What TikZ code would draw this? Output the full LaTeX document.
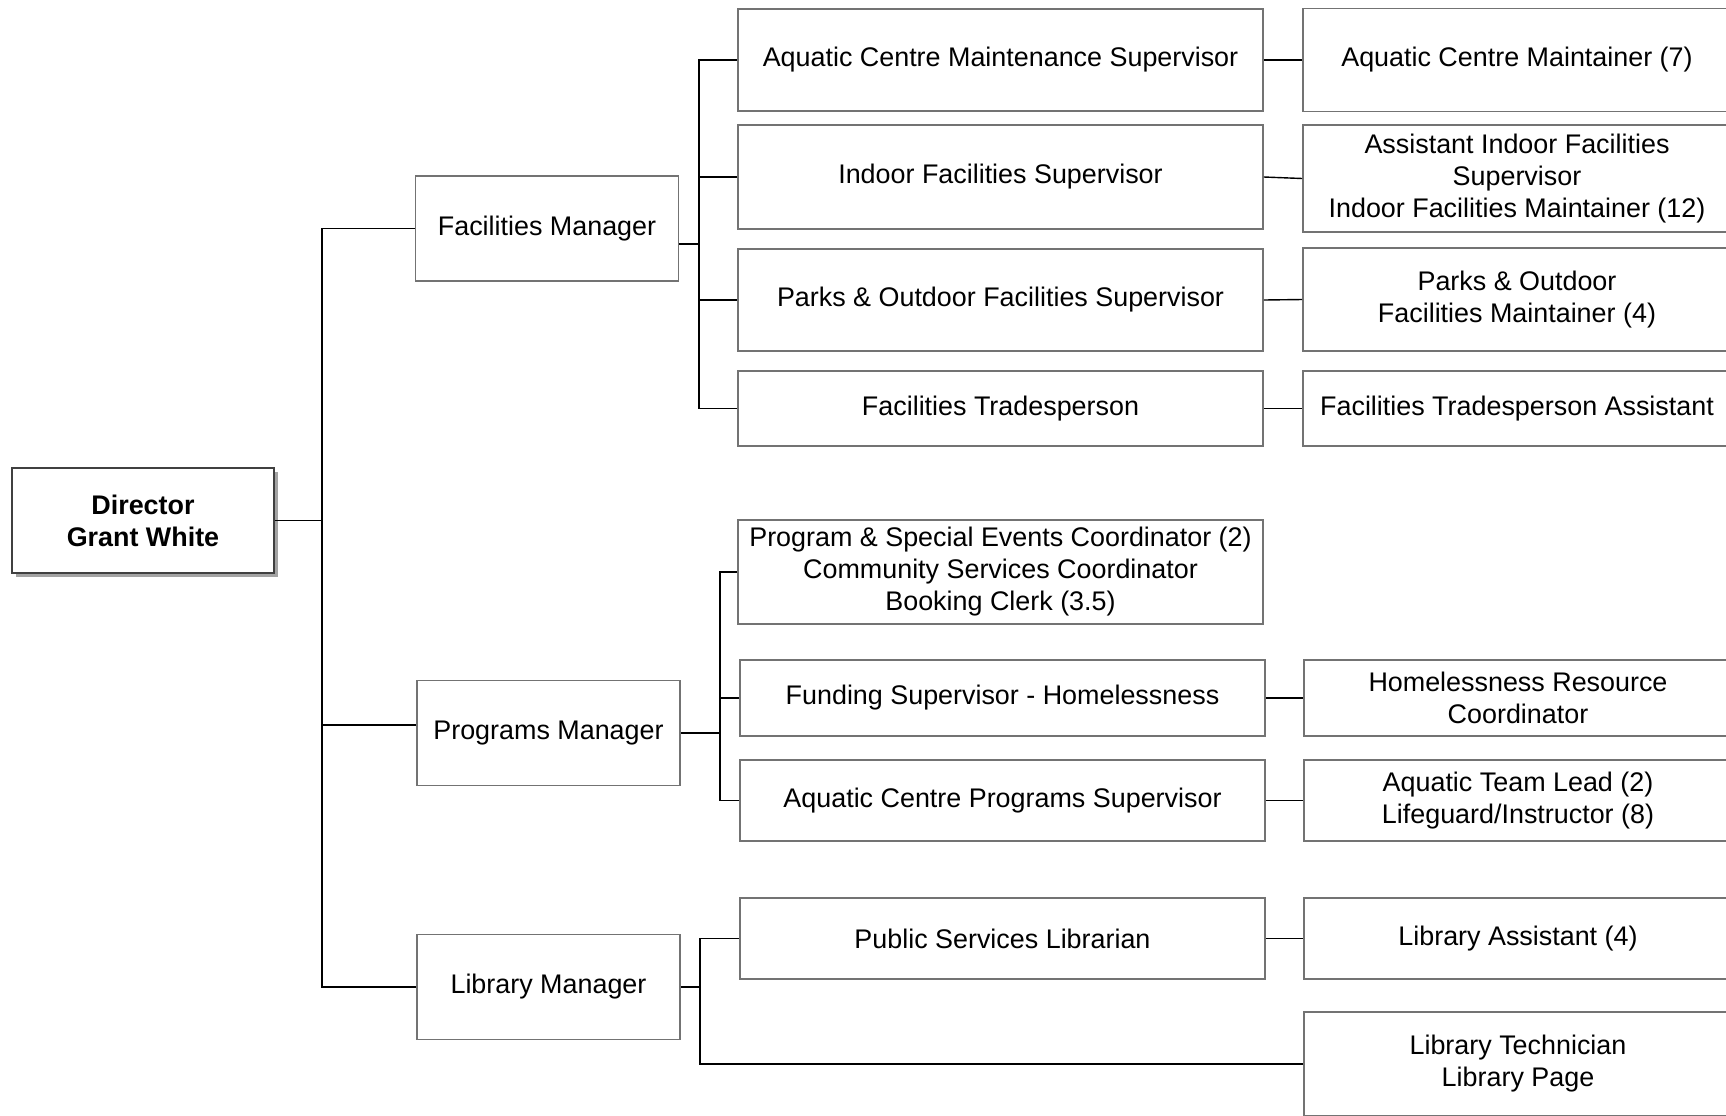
\documentclass[tikz,border=0pt]{standalone}
\usepackage{fontspec}
\setmainfont{Liberation Sans}
\usetikzlibrary{shadows}

\begin{document}
\begin{tikzpicture}[
  x=0.5pt, y=-0.5pt,
  every node/.style={font=\fontsize{13.45}{16}\selectfont},
  box/.style={draw=black!55, line width=0.8pt, fill=white, align=center, inner sep=0pt},
  headbox/.style={box, draw=black!75, font=\fontsize{13.45}{16}\selectfont\bfseries, minimum width=131pt, minimum height=52.5pt,
    drop shadow={shadow xshift=2pt, shadow yshift=-2pt, fill=black!60, opacity=.6}},
  mgrbox/.style={box, minimum width=131.5pt, minimum height=52.5pt},
  midbox/.style={box, minimum width=262.5pt},
  leafbox/.style={box, minimum width=214pt},
  link/.style={draw=black, line width=0.7pt}
]
\fill[white] (0,0) rectangle (1726,1115);
\path[use as bounding box, clip] (0,0) rectangle (1726,1115);

\node[headbox] (dir) at (143,520.5) {Director\\Grant White};

\node[mgrbox] (fm) at (547,228.5) {Facilities Manager};
\node[mgrbox] (pm) at (548.5,733) {Programs Manager};
\node[mgrbox] (lm) at (548.5,987) {Library Manager};

\node[midbox, minimum height=51pt] (acms) at (1000.5,60) {Aquatic Centre Maintenance Supervisor};
\node[midbox, minimum height=52pt] (ifs) at (1000.5,177) {Indoor Facilities Supervisor};
\node[midbox, minimum height=51pt] (pofs) at (1000.5,300) {Parks \& Outdoor Facilities Supervisor};
\node[midbox, minimum height=37.5pt] (ft) at (1000.5,408.5) {Facilities Tradesperson};
\node[midbox, minimum height=52pt] (pse) at (1000.5,572) {Program \& Special Events Coordinator (2)\\Community Services Coordinator\\Booking Clerk (3.5)};
\node[midbox, minimum height=38pt] (fsh) at (1002.5,698) {Funding Supervisor - Homelessness};
\node[midbox, minimum height=40.5pt] (acps) at (1002.5,800.5) {Aquatic Centre Programs Supervisor};
\node[midbox, minimum height=40.5pt] (psl) at (1002.5,938.5) {Public Services Librarian};

\node[leafbox, minimum height=51.5pt] (acm) at (1517,60) {Aquatic Centre Maintainer (7)};
\node[leafbox, minimum height=53.5pt] (aifs) at (1517,178.5) {Assistant Indoor Facilities\\Supervisor\\Indoor Facilities Maintainer (12)};
\node[leafbox, minimum height=51.5pt] (pofm) at (1517,299.5) {Parks \& Outdoor\\Facilities Maintainer (4)};
\node[leafbox, minimum height=37.5pt] (fta) at (1517,408.5) {Facilities Tradesperson Assistant};
\node[leafbox, minimum height=38pt] (hrc) at (1518,698) {Homelessness Resource\\Coordinator};
\node[leafbox, minimum height=40.5pt] (atl) at (1518,800.5) {Aquatic Team Lead (2)\\Lifeguard/Instructor (8)};
\node[leafbox, minimum height=40.5pt] (la) at (1518,938.5) {Library Assistant (4)};
\node[leafbox, minimum height=52pt] (lt) at (1518,1064) {Library Technician\\Library Page};

\coordinate (dj) at (322,520.5);
\coordinate (fj) at (699,244);
\coordinate (pj) at (720,733);
\coordinate (lj) at (700,987);

\draw[link] (dir.east) -- (dj);
\draw[link] (fm.west) -| (dj);
\draw[link] ([yshift=4pt]pm.west) -| (dj);
\draw[link] (lm.west) -| (dj);

\draw[link] (fm.east |- fj) -- (fj);
\foreach \n in {acms,ifs,pofs,ft}
  \draw[link] (\n.west) -| (fj);

\draw[link] (pm.east) -- (pj);
\foreach \n in {pse,fsh,acps}
  \draw[link] (\n.west) -| (pj);

\draw[link] (lm.east) -- (lj);
\foreach \n in {psl,lt}
  \draw[link] (\n.west) -| (lj);

\foreach \a/\b in {acms/acm,ifs/aifs,pofs/pofm,ft/fta,fsh/hrc,acps/atl,psl/la}
  \draw[link] (\a.east) -- (\b.west);
\end{tikzpicture}
\end{document}
